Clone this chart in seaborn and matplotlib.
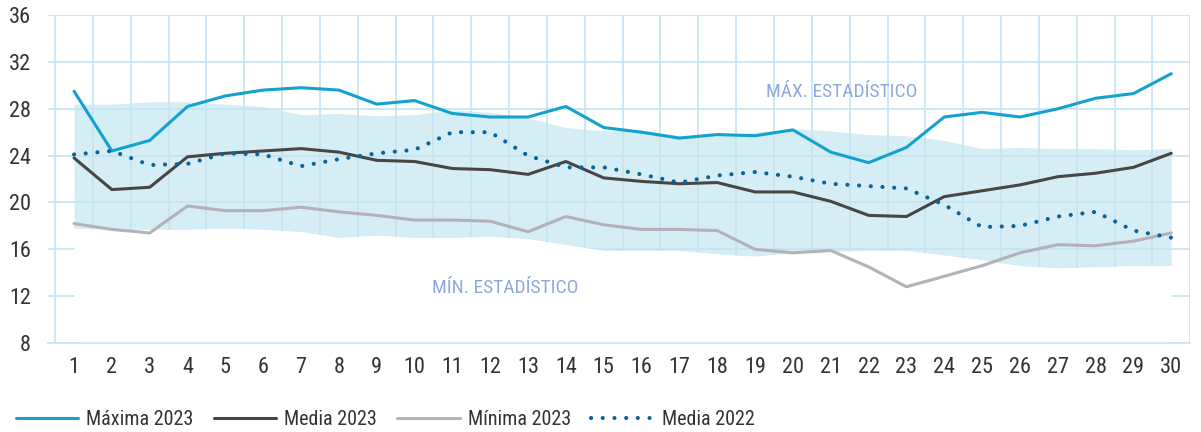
import numpy as np
import pandas as pd
import seaborn as sns
import matplotlib.pyplot as plt
from matplotlib import font_manager
from matplotlib.ticker import MultipleLocator

days = list(range(1, 31))

maxima_2023 = [29.5, 24.4, 25.3, 28.2, 29.1, 29.6, 29.8, 29.6, 28.4, 28.7,
               27.6, 27.3, 27.3, 28.2, 26.4, 26.0, 25.5, 25.8, 25.7, 26.2,
               24.3, 23.4, 24.7, 27.3, 27.7, 27.3, 28.0, 28.9, 29.3, 31.0]
media_2023 = [23.8, 21.1, 21.3, 23.9, 24.2, 24.4, 24.6, 24.3, 23.6, 23.5,
              22.9, 22.8, 22.4, 23.5, 22.1, 21.8, 21.6, 21.7, 20.9, 20.9,
              20.1, 18.9, 18.8, 20.5, 21.0, 21.5, 22.2, 22.5, 23.0, 24.2]
minima_2023 = [18.2, 17.7, 17.4, 19.7, 19.3, 19.3, 19.6, 19.2, 18.9, 18.5,
               18.5, 18.4, 17.5, 18.8, 18.1, 17.7, 17.7, 17.6, 16.0, 15.7,
               15.9, 14.5, 12.8, 13.7, 14.6, 15.7, 16.4, 16.3, 16.7, 17.4]
media_2022 = [24.1, 24.4, 23.2, 23.3, 24.2, 24.1, 23.1, 23.7, 24.2, 24.5,
              26.0, 26.0, 24.0, 23.0, 23.0, 22.4, 21.7, 22.3, 22.6, 22.2,
              21.6, 21.4, 21.2, 19.8, 17.9, 18.0, 18.8, 19.2, 17.6, 17.0]
max_estadistico = [28.4, 28.4, 28.6, 28.6, 28.4, 28.2, 27.5, 27.6, 27.4, 27.5,
                   27.9, 27.7, 27.2, 26.4, 26.1, 26.2, 25.7, 25.7, 26.0, 26.3,
                   26.1, 25.8, 25.7, 25.3, 24.6, 24.7, 24.6, 24.6, 24.5, 24.6]
min_estadistico = [17.8, 17.7, 17.7, 17.7, 17.8, 17.7, 17.5, 17.0, 17.2, 17.0,
                   17.0, 17.1, 16.9, 16.4, 15.9, 15.9, 15.9, 15.6, 15.4, 15.7,
                   15.8, 15.9, 15.9, 15.5, 15.1, 14.6, 14.4, 14.5, 14.6, 14.6]

df = pd.DataFrame({'dia': days, 'max23': maxima_2023, 'med23': media_2023,
                   'min23': minima_2023, 'med22': media_2022,
                   'bmax': max_estadistico, 'bmin': min_estadistico})

sns.set_style('white')

# buscar una fuente estrecha si hay
fl = font_manager.fontManager.ttflist
nombres = {f.name for f in fl}
narrow = None
for n in ['Liberation Sans Narrow', 'Roboto Condensed', 'Open Sans Condensed']:
    if n in nombres:
        narrow = n
        break
if narrow is not None:
    plt.rcParams['font.family'] = [narrow, 'DejaVu Sans']
    fs_tick, fs_leg, fs_lab = 16, 14.5, 14
else:
    plt.rcParams['font.family'] = ['Roboto', 'DejaVu Sans']
    fs_tick, fs_leg, fs_lab = 13.5, 12.5, 12.5

grid_c = '#c3e4f0'
txt_c = '#333333'
fig = plt.figure(figsize=(12.01, 4.32), dpi=100)
ax = fig.add_axes([0.0396, 0.206, 0.9514, 0.759])

# banda estadistica + blanco por debajo del minimo
ax.fill_between(df['dia'], df['bmin'], df['bmax'], color='#d5edf5', lw=0, zorder=1)
ax.fill_between(df['dia'], 8, df['bmin'], color='white', lw=0, zorder=2)

sns.lineplot(data=df, x='dia', y='max23', ax=ax, color='#13a1cf', lw=2.2,
             label='Máxima 2023', zorder=4)
sns.lineplot(data=df, x='dia', y='med23', ax=ax, color='#464646', lw=2.2,
             label='Media 2023', zorder=4)
sns.lineplot(data=df, x='dia', y='min23', ax=ax, color='#b2b2b8', lw=2.2,
             label='Mínima 2023', zorder=4)
sns.lineplot(data=df, x='dia', y='med22', ax=ax, color='#0b6299', lw=3.0,
             label='Media 2022', zorder=5)
ax.lines[-1].set_linestyle((0, (0.01, 2.8)))
ax.lines[-1].set_dash_capstyle('round')

ax.set_xlim(0.3, 30.5)
ax.set_ylim(8, 36)
ax.set_xticks(days)
ax.xaxis.set_minor_locator(MultipleLocator(1, offset=0.5))
ax.set_yticks(range(8, 37, 4))
ax.set_axisbelow('line')
ax.grid(True, which='minor', axis='x', color=grid_c, lw=1.2)
ax.grid(True, which='major', axis='y', color=grid_c, lw=1.2)
ax.grid(False, which='major', axis='x')
ax.tick_params(axis='x', which='major', length=0, pad=10, labelsize=fs_tick, labelcolor=txt_c)
ax.tick_params(axis='x', which='minor', length=7, width=1.2, color=grid_c)
ax.tick_params(axis='y', length=0, pad=12, labelsize=fs_tick, labelcolor=txt_c)
for s in ['top', 'right', 'left']:
    ax.spines[s].set_visible(False)
ax.spines['bottom'].set_color(grid_c)
ax.spines['bottom'].set_linewidth(1.2)
ax.spines['bottom'].set_zorder(6)
ax.set_xlabel('')
ax.set_ylabel('')

ax.text(21.3, 29.4, 'MÁX. ESTADÍSTICO', color='#8ea8df', fontsize=fs_lab,
        ha='center', va='center', zorder=6)
ax.text(12.4, 12.7, 'MÍN. ESTADÍSTICO', color='#8ea8df', fontsize=fs_lab,
        ha='center', va='center', zorder=6)

ax.legend(loc='center left', bbox_to_anchor=(-0.04, -0.232), ncol=4, frameon=False,
          fontsize=fs_leg, handlelength=3.1, handletextpad=0.4, columnspacing=1.0,
          labelcolor=txt_c, borderpad=0.2)

fig.savefig('out.png', dpi=100)
